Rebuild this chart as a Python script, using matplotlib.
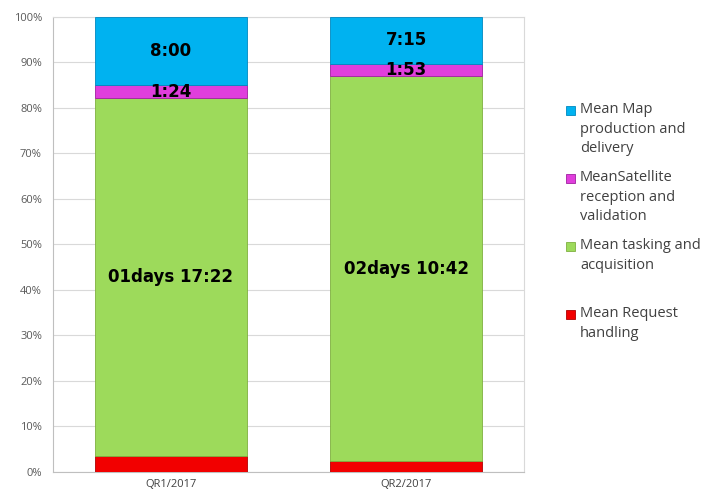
import matplotlib
matplotlib.use("Agg")
import matplotlib.pyplot as plt
from matplotlib.patches import Rectangle
import numpy as np

categories = ["QR1/2017", "QR2/2017"]
series_names = ["Mean Request\nhandling", "Mean tasking and\nacquisition",
                "MeanSatellite\nreception and\nvalidation", "Mean Map\nproduction and\ndelivery"]
request = [3.5, 2.4]
tasking = [78.6, 84.5]
satellite = [2.9, 2.8]
mapprod = [15.0, 10.3]
labels_tasking = ["01days 17:22", "02days 10:42"]
labels_satellite = ["1:24", "1:53"]
labels_map = ["8:00", "7:15"]
yticks = [0, 10, 20, 30, 40, 50, 60, 70, 80, 90, 100]

colors = ["#F20000", "#9DDA5B", "#E03EDC", "#00B2F0"]
edges = ["#B00000", "#7FB040", "#A020A0", "#0088C0"]

fig = plt.figure(figsize=(7.07, 4.95), dpi=100)
ax = fig.add_axes([0.075, 0.047, 0.666, 0.919])

x = np.arange(len(categories))
w = 0.647
series = [request, tasking, satellite, mapprod]
bottom = np.zeros(len(categories))
for vals, c, e in zip(series, colors, edges):
    ax.bar(x, vals, w, bottom=bottom, color=c, edgecolor=e, linewidth=0.6, zorder=3)
    bottom += np.array(vals)

tfont = dict(fontsize=12, fontweight="bold", color="black", ha="center", va="center",
             family="DejaVu Sans", zorder=5)
for i in range(len(categories)):
    b_t = request[i]
    ax.text(x[i], b_t + tasking[i] / 2, labels_tasking[i], **tfont)
    b_s = b_t + tasking[i]
    ax.text(x[i], b_s + satellite[i] / 2, labels_satellite[i], **tfont)
    b_m = b_s + satellite[i]
    ax.text(x[i], b_m + mapprod[i] / 2, labels_map[i], **tfont)

ax.set_xlim(-0.5, 1.5)
ax.set_ylim(0, 100)
ax.set_yticks(yticks)
ax.set_yticklabels([f"{v}%" for v in yticks], fontsize=8, color="#595959", family="Open Sans")
ax.set_xticks(x)
ax.set_xticklabels(categories, fontsize=8, color="#404040", family="Open Sans")
ax.tick_params(axis="y", length=0, pad=8)
ax.tick_params(axis="x", length=0, pad=5)
ax.grid(axis="y", color="#D9D9D9", linewidth=0.8, zorder=0)
for s in ["top", "right"]:
    ax.spines[s].set_color("#D9D9D9")
    ax.spines[s].set_linewidth(0.8)
ax.spines["bottom"].set_color("#BFBFBF")
ax.spines["left"].set_color("#BFBFBF")
ax.spines["bottom"].set_linewidth(0.8)
ax.spines["left"].set_linewidth(0.8)

# legend (manual, Excel-like fixed-height entries)
W, H = 707, 495
legend_order = [3, 2, 1, 0]
y0 = 110
step = 68
for k, idx in enumerate(legend_order):
    yc = y0 + k * step
    fig.patches.append(Rectangle((566 / W, 1 - (yc + 4.5) / H), 9 / W, 9 / H,
                                 transform=fig.transFigure, facecolor=colors[idx],
                                 edgecolor=edges[idx], linewidth=0.6))
    fig.text(580 / W, 1 - (yc - 8) / H, series_names[idx], fontsize=10.5, color="#404040",
             family="Open Sans", va="top", ha="left", linespacing=1.42)

fig.savefig("out.png", dpi=100)
